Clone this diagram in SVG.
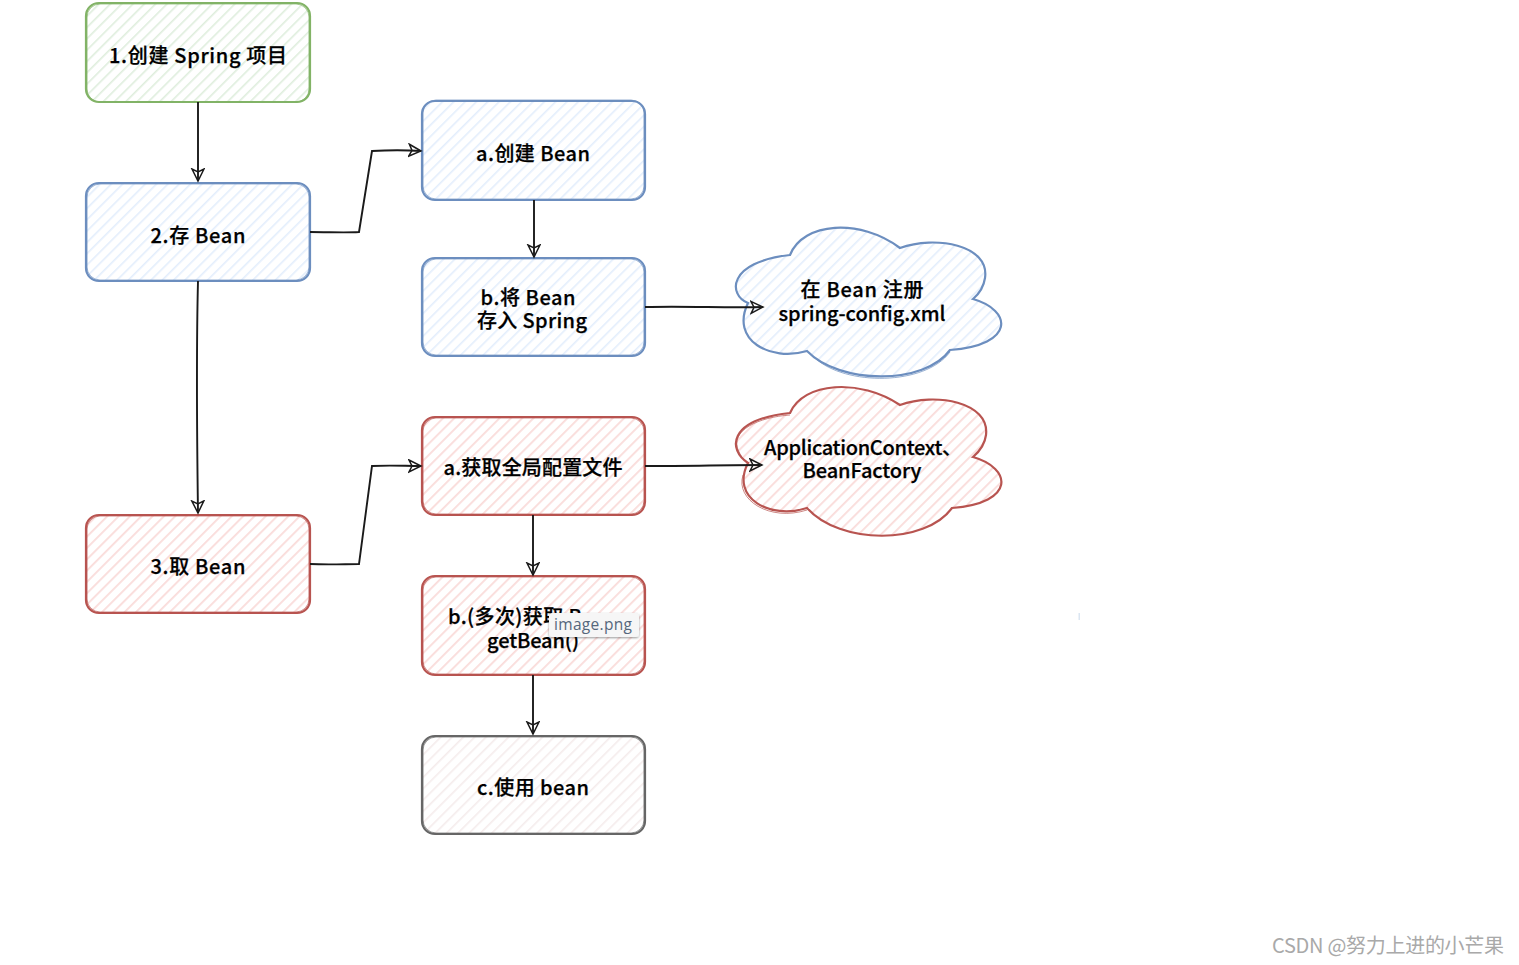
<svg xmlns="http://www.w3.org/2000/svg" width="1519" height="965" viewBox="0 0 1519 965">
<style>
text{font-family:"Noto Sans CJK SC","DejaVu Sans",sans-serif;font-size:20px;font-weight:500;fill:#000;text-anchor:middle;stroke:#000;stroke-width:.25}
.box{stroke-width:2.2}
.sk{fill:none;stroke-width:1;opacity:.7}
.g{stroke:#82b366}.b{stroke:#6c8ebf}.r{stroke:#b85450}.k{stroke:#666}
.con{fill:none;stroke:#1a1a1a;stroke-width:1.9;marker-end:url(#arr)}
</style>
<defs>
<marker id="arr" markerUnits="userSpaceOnUse" markerWidth="18" markerHeight="18" refX="13" refY="7" orient="auto"><path d="M1 1L13 7L1 13L4 7Z" fill="none" stroke="#1a1a1a" stroke-width="1.5"/></marker>
<pattern id="hg" width="8" height="8" patternUnits="userSpaceOnUse" patternTransform="rotate(45)"><rect width="8" height="8" fill="#fff"/><rect width="1.6" height="8" fill="#dfeedd"/></pattern>
<pattern id="hb" width="8" height="8" patternUnits="userSpaceOnUse" patternTransform="rotate(45)"><rect width="8" height="8" fill="#fff"/><rect width="1.6" height="8" fill="#e3eefc"/></pattern>
<pattern id="hr" width="8" height="8" patternUnits="userSpaceOnUse" patternTransform="rotate(45)"><rect width="8" height="8" fill="#fff"/><rect width="1.8" height="8" fill="#fadcda"/></pattern>
<pattern id="hk" width="8" height="8" patternUnits="userSpaceOnUse" patternTransform="rotate(45)"><rect width="8" height="8" fill="#fff"/><rect width="1.6" height="8" fill="#f5ecec"/></pattern>
<filter id="sh" x="-10%" y="-20%" width="120%" height="150%"><feDropShadow dx="0" dy="1" stdDeviation="1" flood-color="#000" flood-opacity=".4"/></filter>
</defs>
<g id="n1"><rect class="box g" x="86" y="3" width="224" height="99" rx="13" fill="url(#hg)"/><rect class="sk g" x="87" y="4" width="222" height="98" rx="13"/><text x="198" y="63" textLength="178">1.创建 Spring 项目</text></g>
<g id="n2"><rect class="box b" x="86" y="183" width="224" height="98" rx="13" fill="url(#hb)"/><rect class="sk b" x="87" y="184" width="222" height="96" rx="13"/><text x="198" y="243" textLength="95">2.存 Bean</text></g>
<g id="n3"><rect class="box r" x="86" y="515" width="224" height="98" rx="13" fill="url(#hr)"/><rect class="sk r" x="87" y="516" width="222" height="96" rx="13"/><text x="198" y="574" textLength="95">3.取 Bean</text></g>
<g id="n4"><rect class="box b" x="422" y="101" width="223" height="99" rx="13" fill="url(#hb)"/><rect class="sk b" x="423" y="100" width="221" height="99" rx="13"/><text x="533" y="161" textLength="114">a.创建 Bean</text></g>
<g id="n5"><rect class="box b" x="422" y="258" width="223" height="98" rx="13" fill="url(#hb)"/><rect class="sk b" x="423" y="259" width="221" height="96" rx="13"/><text x="528" y="305" textLength="95">b.将 Bean</text><text x="532" y="328" textLength="110">存入 Spring</text></g>
<g id="n6"><path class="box b" fill="url(#hb)" d="M790 255C803 222 860 218 900 248C935 235 990 245 985 278C984 285 980 293 973 299C1012 310 1016 345 950 350C925 385 840 385 807 351C770 362 730 340 748 303C728 295 727 262 790 255Z"/><path class="sk b" d="M950 352C925 386 845 386 815 358"/><text x="862" y="297" textLength="123">在 Bean 注册</text><text x="862" y="321" textLength="167">spring-config.xml</text></g>
<g id="n7"><rect class="box r" x="422" y="417" width="223" height="98" rx="13" fill="url(#hr)"/><rect class="sk r" x="423" y="418" width="221" height="96" rx="13"/><text x="533" y="475" textLength="179">a.获取全局配置文件</text></g>
<g id="n8"><path class="box r" fill="url(#hr)" d="M790 413C803 382 860 378 900 405C935 392 990 402 986 435C985 443 980 451 973 457C1012 468 1016 503 952 508C925 545 840 545 807 508C770 520 730 498 748 463C728 450 727 420 790 413Z"/><path class="sk r" d="M790 415C760 417 728 430 739 452C743 460 745 461 748 463M807 510C770 522 735 500 743 475"/><text x="863" y="455" textLength="198">ApplicationContext、</text><text x="862" y="478" textLength="119">BeanFactory</text></g>
<g id="n9"><rect class="box r" x="422" y="576" width="223" height="99" rx="13" fill="url(#hr)"/><rect class="sk r" x="423" y="577" width="221" height="97" rx="13"/><text x="533" y="624" textLength="170">b.(多次)获取 Bean</text><text x="533" y="648" textLength="92">getBean()</text></g>
<g id="n10"><rect class="box k" x="422" y="736" width="223" height="98" rx="13" fill="url(#hk)"/><rect class="sk k" x="423" y="737" width="221" height="96" rx="13"/><text x="533" y="795" textLength="112">c.使用 bean</text></g>
<g id="connectors">
<path class="con" d="M198 102L198 181"/>
<path class="con" d="M310 232C330 232 345 233 359 232L372 151C390 150 405 150 421 151"/>
<path class="con" d="M534 200L534 257"/>
<path class="con" d="M645 307C690 306 725 308 763 307"/>
<path class="con" d="M198 281C196 360 197 440 198 513"/>
<path class="con" d="M310 564C330 565 345 564 359 564L372 466C390 465 405 466 421 466"/>
<path class="con" d="M645 466C690 466 725 465 762 465"/>
<path class="con" d="M533 515L533 575"/>
<path class="con" d="M533 675L533 734"/>
</g>
<g id="tooltip"><rect x="549" y="613" width="90" height="24" rx="3" fill="#f6f6f6" filter="url(#sh)"/><text x="593" y="630" style="font-family:'Open Sans',sans-serif;font-size:15.5px;font-weight:400;fill:#55677c;stroke:none" textLength="78">image.png</text></g>
<text x="1388" y="953" style="font-family:'Noto Sans CJK SC',sans-serif;font-size:20px;font-weight:400;fill:#a9a9a9;stroke:none" textLength="232">CSDN @努力上进的小芒果</text>
<rect x="1078.5" y="613" width="1.5" height="7" fill="#dbe6f2"/>
</svg>
